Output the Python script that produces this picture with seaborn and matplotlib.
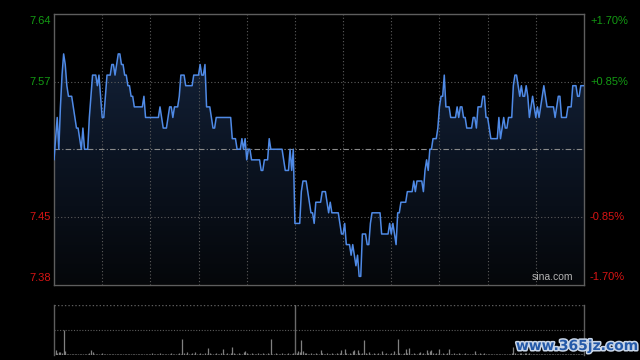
import numpy as np
import pandas as pd
import matplotlib
matplotlib.use("Agg")
import matplotlib.pyplot as plt
import seaborn as sns
from matplotlib import patheffects
from matplotlib.colors import LinearSegmentedColormap
import matplotlib.transforms as mtransforms

# ---------------- data ----------------
prev_close = 7.51
price = [
    7.50, 7.52, 7.54, 7.51, 7.55, 7.58, 7.60, 7.59, 7.57, 7.56, 7.56, 7.56, 7.55, 7.54, 7.53, 7.53, 7.52, 7.51, 7.53, 7.51,
    7.51, 7.51, 7.54, 7.56, 7.58, 7.58, 7.58, 7.57, 7.58, 7.56, 7.54, 7.54, 7.56, 7.58, 7.58, 7.58, 7.59, 7.59, 7.58, 7.59,
    7.60, 7.60, 7.59, 7.59, 7.58, 7.58, 7.57, 7.57, 7.56, 7.56, 7.55, 7.55, 7.55, 7.55, 7.55, 7.55, 7.56, 7.54, 7.54, 7.54,
    7.54, 7.54, 7.54, 7.54, 7.54, 7.54, 7.55, 7.54, 7.53, 7.53, 7.53, 7.54, 7.55, 7.55, 7.54, 7.55, 7.55, 7.55, 7.56, 7.58,
    7.58, 7.58, 7.57, 7.57, 7.57, 7.57, 7.57, 7.58, 7.58, 7.58, 7.58, 7.59, 7.58, 7.58, 7.59, 7.55, 7.55, 7.55, 7.54, 7.53,
    7.53, 7.54, 7.54, 7.54, 7.54, 7.54, 7.54, 7.54, 7.54, 7.54, 7.54, 7.52, 7.52, 7.52, 7.51, 7.51, 7.51, 7.52, 7.51, 7.52,
    7.50, 7.51, 7.51, 7.50, 7.50, 7.50, 7.50, 7.50, 7.50, 7.49, 7.49, 7.50, 7.50, 7.50, 7.52, 7.51, 7.51, 7.51, 7.51, 7.51,
    7.51, 7.51, 7.51, 7.50, 7.49, 7.49, 7.49, 7.51, 7.49, 7.51, 7.44, 7.44, 7.44, 7.44, 7.47, 7.48, 7.48, 7.48, 7.47, 7.46,
    7.45, 7.45, 7.44, 7.46, 7.46, 7.46, 7.46, 7.47, 7.47, 7.47, 7.46, 7.45, 7.46, 7.45, 7.45, 7.45, 7.45, 7.45, 7.44, 7.43,
    7.43, 7.44, 7.42, 7.42, 7.42, 7.41, 7.42, 7.41, 7.40, 7.41, 7.39, 7.39, 7.43, 7.43, 7.43, 7.42, 7.42, 7.44, 7.45, 7.45,
    7.45, 7.45, 7.45, 7.45, 7.43, 7.43, 7.43, 7.43, 7.43, 7.44, 7.43, 7.44, 7.43, 7.42, 7.45, 7.45, 7.46, 7.46, 7.46, 7.46,
    7.47, 7.47, 7.47, 7.47, 7.48, 7.47, 7.48, 7.48, 7.48, 7.48, 7.47, 7.49, 7.50, 7.49, 7.51, 7.51, 7.52, 7.52, 7.52, 7.53,
    7.55, 7.56, 7.56, 7.58, 7.55, 7.55, 7.55, 7.54, 7.54, 7.54, 7.54, 7.55, 7.54, 7.55, 7.55, 7.54, 7.54, 7.53, 7.53, 7.53,
    7.53, 7.54, 7.54, 7.53, 7.55, 7.55, 7.55, 7.56, 7.56, 7.54, 7.54, 7.53, 7.52, 7.52, 7.52, 7.52, 7.52, 7.54, 7.52, 7.53,
    7.54, 7.53, 7.53, 7.54, 7.54, 7.54, 7.57, 7.58, 7.58, 7.57, 7.56, 7.57, 7.56, 7.56, 7.57, 7.56, 7.54, 7.55, 7.56, 7.55,
    7.54, 7.55, 7.54, 7.55, 7.56, 7.57, 7.56, 7.55, 7.55, 7.55, 7.55, 7.55, 7.54, 7.55, 7.56, 7.56, 7.54, 7.54, 7.54, 7.54,
    7.55, 7.55, 7.55, 7.57, 7.57, 7.57, 7.56, 7.56, 7.57, 7.57, 7.57,
]
volume = [
    3, 5, 2, 3, 3, 2, 25, 4, 1, 1, 1, 1, 1, 1, 1, 1, 1, 1, 1, 1,
    1, 1, 2, 5, 3, 1, 1, 1, 1, 1, 2, 1, 1, 1, 1, 1, 1, 1, 1, 1,
    1, 1, 1, 1, 1, 1, 1, 1, 1, 1, 1, 1, 1, 1, 1, 1, 1, 1, 1, 1,
    1, 2, 1, 1, 1, 1, 2, 1, 1, 1, 1, 1, 1, 2, 1, 1, 1, 1, 2, 1,
    16, 2, 1, 3, 1, 1, 2, 1, 3, 1, 1, 2, 1, 1, 2, 1, 7, 2, 1, 1,
    1, 2, 1, 1, 2, 6, 1, 1, 2, 1, 2, 8, 2, 1, 1, 2, 1, 1, 3, 4,
    2, 1, 1, 2, 1, 1, 1, 2, 1, 1, 2, 1, 1, 2, 1, 16, 1, 1, 2, 1,
    1, 1, 2, 1, 1, 1, 2, 1, 1, 2, 3, 2, 4, 3, 15, 4, 2, 2, 1, 1,
    2, 1, 1, 2, 1, 1, 5, 2, 1, 1, 2, 1, 1, 2, 1, 1, 2, 1, 2, 5,
    1, 6, 2, 1, 2, 1, 4, 5, 1, 5, 2, 1, 2, 15, 2, 1, 3, 1, 1, 2,
    1, 1, 2, 1, 4, 1, 1, 2, 1, 1, 2, 1, 4, 1, 16, 2, 1, 1, 2, 6,
    2, 7, 1, 1, 2, 1, 1, 2, 3, 1, 2, 1, 5, 2, 4, 5, 2, 1, 2, 1,
    6, 1, 2, 1, 1, 2, 6, 1, 1, 2, 1, 1, 2, 1, 1, 1, 2, 1, 1, 1,
    1, 1, 4, 1, 1, 2, 1, 1, 2, 1, 1, 1, 1, 1, 1, 1, 1, 1, 1, 1,
    1, 1, 1, 1, 1, 2, 8, 2, 1, 1, 2, 2, 1, 2, 2, 1, 2, 1, 1, 1,
    1, 1, 1, 1, 1, 1, 1, 1, 1, 1, 1, 1, 1, 1, 1, 1, 1, 1, 1, 1,
    1, 1, 1, 1, 1, 1, 1, 1, 1, 1, 1,
]
price_labels = ["7.64", "7.57", "7.45", "7.38"]
pct_labels = ["+1.70%", "+0.85%", "-0.85%", "-1.70%"]
pct_levels = [0.017, 0.0085, -0.0085, -0.017]
session_minutes = 330
lunch_minute = 150

# ---------------- style ----------------
sns.set_theme(style="dark")
plt.rcParams["font.family"] = ["Liberation Sans", "DejaVu Sans"]

GREEN = "#139a13"
RED = "#d81414"
GRID = "#5c5c5c"
FRAME = "#5e5e5e"

fig = plt.figure(figsize=(6.4, 3.6), dpi=100, facecolor="black")
ax = fig.add_axes([54 / 640, 1 - 284.5 / 360, 530 / 640, 270.5 / 360])
axv = fig.add_axes([54 / 640, 1 - 354.5 / 360, 530 / 640, 49.8 / 360])

df = pd.DataFrame({"minute": np.arange(len(price)), "price": price})
ylo, yhi = prev_close * (1 - 0.017), prev_close * (1 + 0.017)

# ---- main panel ----
ax.set_facecolor("black")
poly = ax.fill_between(df["minute"], df["price"], ylo, color="none", lw=0)
cmap = LinearSegmentedColormap.from_list("g", ["#05070a", "#0c1524", "#16263f"])
grad = np.linspace(0, 1, 256).reshape(-1, 1)
im = ax.imshow(grad, cmap=cmap, extent=[0, session_minutes, ylo, yhi],
               aspect="auto", origin="lower", zorder=1)
im.set_clip_path(poly.get_paths()[0], transform=ax.transData)

for m in range(30, session_minutes, 30):
    ax.axvline(m, color=GRID, lw=0.8, ls=(0, (1, 2)), zorder=2)
for p in [0.0085, -0.0085]:
    ax.axhline(prev_close * (1 + p), color=GRID, lw=0.8, ls=(0, (1, 2)), zorder=2)
ax.axhline(prev_close, color="#8a8a8a", lw=0.8, ls=(0, (5, 2, 1, 2)), zorder=2)

sns.lineplot(data=df, x="minute", y="price", ax=ax, color="#4f8ae6", lw=1.1, zorder=3)

ax.set_xlim(0, session_minutes)
ax.set_ylim(ylo, yhi)
ax.set_xticks([])
ax.set_yticks([])
ax.set_xlabel("")
ax.set_ylabel("")
for s in ax.spines.values():
    s.set_color(FRAME)
    s.set_linewidth(1.0)
    s.set_visible(True)

blend_l = mtransforms.blended_transform_factory(ax.transAxes, ax.transData)
fs = 8
for lab, p in zip(price_labels, pct_levels):
    val = prev_close * (1 + p)
    col = GREEN if p > 0 else RED
    va = "center"
    off = 0
    if p == 0.017:
        va, off = "top", -1.5
    elif p == -0.017:
        va, off = "bottom", 1.5
    tr = blend_l + mtransforms.ScaledTranslation(-3 / 100, off / 100, fig.dpi_scale_trans)
    ax.text(0, val, lab, transform=tr, ha="right", va=va, color=col, fontsize=fs)
for lab, p in zip(pct_labels, pct_levels):
    val = prev_close * (1 + p)
    col = GREEN if p > 0 else RED
    va = "center"
    off = 0
    if p == 0.017:
        va, off = "top", -2.5
    elif p == -0.017:
        va, off = "bottom", 2
    tr = blend_l + mtransforms.ScaledTranslation(6 / 100, off / 100, fig.dpi_scale_trans)
    ax.text(1, val, lab, transform=tr, ha="left", va=va, color=col, fontsize=fs)

ax.text(0.979, 0.008, "sina.com", transform=ax.transAxes, ha="right", va="bottom",
        color="#b4b4b4", fontsize=7.5, zorder=4)

# ---- volume panel ----
axv.set_facecolor("black")
axv.vlines(np.arange(len(volume)), 0, volume, color="#808080", lw=0.9)
axv.axhline(25, color=GRID, lw=0.8, ls=(0, (1, 1.5)))
axv.axhline(50, color=GRID, lw=1.0, ls=(0, (1, 1.5)))
axv.axhline(0, color=GRID, lw=0.8, ls=(0, (1, 1.5)))
axv.axvline(lunch_minute, color="#6a6a6a", lw=1.0)
axv.set_xlim(0, session_minutes)
axv.set_ylim(0, 50)
axv.set_xticks([])
axv.set_yticks([])
for k, s in axv.spines.items():
    s.set_color(FRAME)
    s.set_linewidth(1.0)
    s.set_visible(k in ("left", "right"))

wm = fig.text(577 / 640, 1 - 346 / 360, "www.365jz.com", ha="center", va="center",
              color="#2459a8", fontsize=10, fontweight="bold", family=["DejaVu Sans"])
wm.set_path_effects([patheffects.withStroke(linewidth=2.2, foreground="#c9d6e8")])

fig.savefig("out.png", dpi=100, facecolor="black")
